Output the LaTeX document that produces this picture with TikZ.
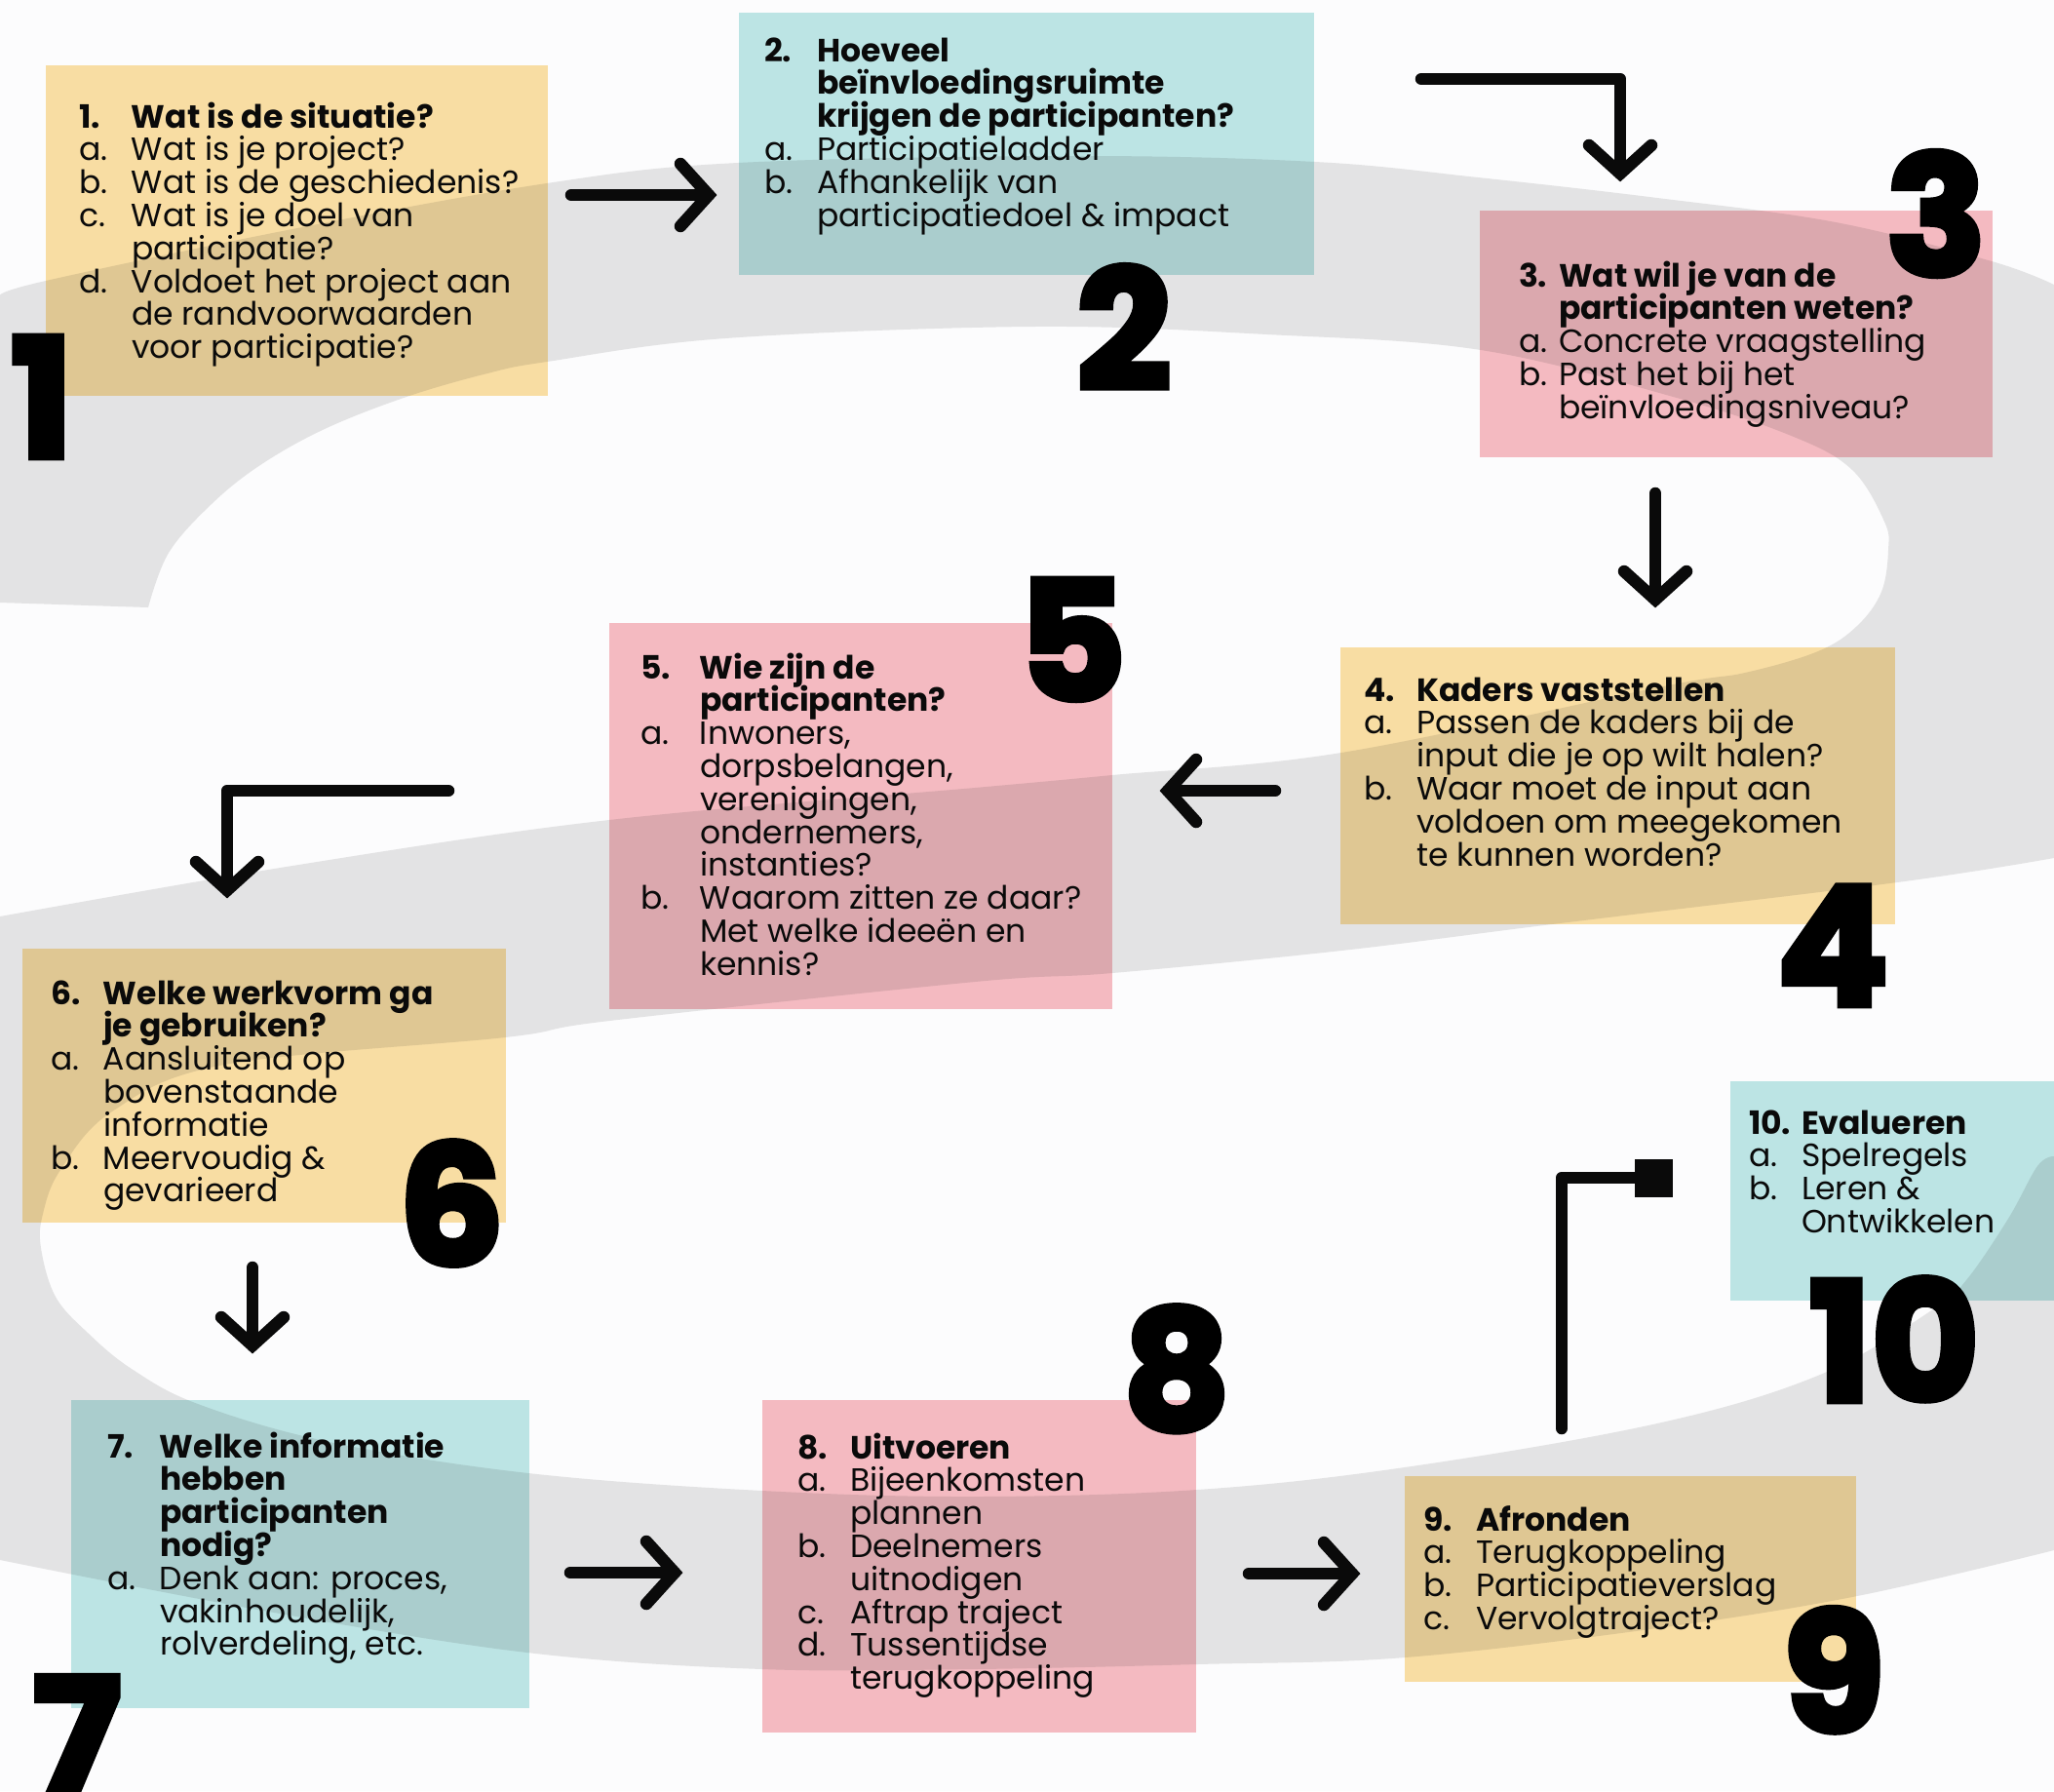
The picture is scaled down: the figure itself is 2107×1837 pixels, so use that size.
\documentclass[tikz,border=0pt]{standalone}
\usepackage{fontspec}
\setmainfont{Poppins}
\newfontfamily\bignum{Poppins}[FakeBold=3.8]
\usetikzlibrary{fit,calc}
\definecolor{bgc}{HTML}{FCFCFD}
\definecolor{swirlc}{HTML}{E3E3E4}
\definecolor{yellowc}{HTML}{FBE0A5}
\definecolor{tealc}{HTML}{BFE7E6}
\definecolor{pinkc}{HTML}{F7BDC3}
\definecolor{inkc}{HTML}{0A0A0A}
\newcommand\txtfont{\fontsize{16.5}{16.9}\selectfont\lineskiplimit=-100pt\lineskip=0pt}
\newcommand\bignumfont{\bignum\bfseries\fontsize{85}{85}\selectfont}
\newcommand\tln[3][27pt]{\hbox{\makebox[#1][l]{#2}#3}}
\newcommand\tlh[3][27pt]{\hbox{\bfseries\makebox[#1][l]{#2}#3}}
\tikzset{
  box/.style={inner sep=0pt, outer sep=0pt, draw=none},
  arr/.style={line width=6.25pt, line cap=round, line join=round, draw=inkc},
  head/.style={line width=6.25pt, line cap=round, line join=miter, draw=inkc},
  txt/.style={anchor=base west, inner sep=0pt, outer sep=0pt, text=inkc, font=\txtfont},
  big/.style={anchor=base, inner sep=0pt, text=black, font=\bignumfont},
}
\begin{document}
\begin{tikzpicture}[x=0.5pt, y=-0.5pt]
\useasboundingbox (0,0) rectangle (2107,1837);
\begin{scope}
\clip (0,0) rectangle (2107,1837);
\fill[bgc] (0,0) rectangle (2107,1837);
% grey spiral band
\fill[swirlc]
  plot[smooth, tension=0.6] coordinates {(152,623) (173,567) (217,517) (267,477) (333,440) (417,407) (500,383) (561,371) (744,347) (1060,335) (1300,343) (1519,359) (1720,408) (1840,448) (1900,482) (1933,535) (1937,564) (1930,607) (1905,642) (1865,668) (1790,690) (1706,704) (1376,772) (1141,795) (1000,808) (625,841) (300,888) (0,940)}
  -- (-60,940) -- (-60,1600) --
  plot[smooth, tension=0.6] coordinates {(0,1600) (270,1652) (541,1695) (782,1712) (1000,1712) (1228,1707) (1441,1700) (1700,1670) (1905,1637) (2107,1590)}
  -- (2160,1575) -- (2160,1186) --
  plot[smooth, tension=0.6] coordinates {(2107,1186) (2090,1196) (2060,1250) (2017,1313) (1983,1343) (1867,1410) (1700,1460) (1441,1505) (1228,1528) (1000,1535) (782,1529) (542,1511) (338,1479) (203,1440) (135,1404) (90,1367) (57,1330) (42,1280) (44,1245) (62,1200) (115,1140) (230,1092) (518,1064) (625,1047) (1000,1007) (1141,998) (1376,975) (1600,947) (1946,905) (2107,880)}
  -- (2160,875) -- (2160,300) --
  plot[smooth, tension=0.6] coordinates {(2107,292) (2043,268) (1883,228) (1700,203) (1516,182) (1349,166) (1100,160) (757,167) (561,188) (300,235) (47,288) (0,303)}
  -- (-60,303) -- (-60,618) -- (0,618) -- cycle;
% boxes
\begin{scope}[blend mode=multiply]
\node[box, fill=yellowc, fit={(47,67) (562,406)}] (b1) {};
\node[box, fill=tealc, fit={(758,13) (1348,282)}] (b2) {};
\node[box, fill=pinkc, fit={(1518,216) (2044,469)}] (b3) {};
\node[box, fill=yellowc, fit={(1375,664) (1944,948)}] (b4) {};
\node[box, fill=pinkc, fit={(625,639) (1141,1035)}] (b5) {};
\node[box, fill=yellowc, fit={(23,973) (519,1254)}] (b6) {};
\node[box, fill=tealc, fit={(73,1436) (543,1752)}] (b7) {};
\node[box, fill=pinkc, fit={(782,1436) (1227,1777)}] (b8) {};
\node[box, fill=yellowc, fit={(1441,1514) (1904,1725)}] (b9) {};
\node[box, fill=tealc, fit={(1775,1109) (2120,1334)}] (b10) {};
\end{scope}
% texts
\node[txt] (t1) at (81,131) {\vtop{\tlh{1.}{Wat is de situatie?}\tln{a.}{Wat is je project?}\tln{b.}{Wat is de geschiedenis?}\tln{c.}{Wat is je doel van}\tln{}{participatie?}\tln{d.}{Voldoet het project aan}\tln{}{de randvoorwaarden}\tln{}{voor participatie?}}};
\node[txt] (t2) at (784,63) {\vtop{\tlh{2.}{Hoeveel}\tlh{}{beïnvloedingsruimte}\tlh{}{krijgen de participanten?}\tln{a.}{Participatieladder}\tln{b.}{Afhankelijk van}\tln{}{participatiedoel \& impact}}};
\node[txt] (t3) at (1558,294) {\vtop{\tlh[20.5pt]{3.}{Wat wil je van de}\tlh[20.5pt]{}{participanten weten?}\tln[20.5pt]{a.}{Concrete vraagstelling}\tln[20.5pt]{b.}{Past het bij het}\tln[20.5pt]{}{beïnvloedingsniveau?}}};
\node[txt] (t4) at (1399,719) {\vtop{\tlh{4.}{Kaders vaststellen}\tln{a.}{Passen de kaders bij de}\tln{}{input die je op wilt halen?}\tln{b.}{Waar moet de input aan}\tln{}{voldoen om meegekomen}\tln{}{te kunnen worden?}}};
\node[txt] (t5) at (657,696) {\vtop{\tlh[30.5pt]{5.}{Wie zijn de}\tlh[30.5pt]{}{participanten?}\tln[30.5pt]{a.}{Inwoners,}\tln[30.5pt]{}{dorpsbelangen,}\tln[30.5pt]{}{verenigingen,}\tln[30.5pt]{}{ondernemers,}\tln[30.5pt]{}{instanties?}\tln[30.5pt]{b.}{Waarom zitten ze daar?}\tln[30.5pt]{}{Met welke ideeën en}\tln[30.5pt]{}{kennis?}}};
\node[txt] (t6) at (52,1030) {\vtop{\tlh{6.}{Welke werkvorm ga}\tlh{}{je gebruiken?}\tln{a.}{Aansluitend op}\tln{}{bovenstaande}\tln{}{informatie}\tln{b.}{Meervoudig \&}\tln{}{gevarieerd}}};
\node[txt] (t7) at (110,1495) {\vtop{\tlh{7.}{Welke informatie}\tlh{}{hebben}\tlh{}{participanten}\tlh{}{nodig?}\tln{a.}{Denk aan: proces,}\tln{}{vakinhoudelijk,}\tln{}{rolverdeling, etc.}}};
\node[txt] (t8) at (818,1496) {\vtop{\tlh{8.}{Uitvoeren}\tln{a.}{Bijeenkomsten}\tln{}{plannen}\tln{b.}{Deelnemers}\tln{}{uitnodigen}\tln{c.}{Aftrap traject}\tln{d.}{Tussentijdse}\tln{}{terugkoppeling}}};
\node[txt] (t9) at (1460,1570) {\vtop{\tlh{9.}{Afronden}\tln{a.}{Terugkoppeling}\tln{b.}{Participatieverslag}\tln{c.}{Vervolgtraject?}}};
\node[txt] (t10) at (1794,1163) {\vtop{\tlh{10.}{Evalueren}\tln{a.}{Spelregels}\tln{b.}{Leren \&}\tln{}{Ontwikkelen}}};
% arrows
\coordinate (a1s) at (586,200); \coordinate (a1e) at (727,200);
\draw[arr] (a1s) -- (a1e);
\draw[head] ($(a1e)+(-29,-32)$) -- (a1e) -- ($(a1e)+(-29,32)$);
\coordinate (a2s) at (1458,81); \coordinate (a2e) at (1662,178);
\draw[arr] (a2s) -| (a2e);
\draw[head] ($(a2e)+(-32,-29)$) -- (a2e) -- ($(a2e)+(32,-29)$);
\coordinate (a3s) at (1698,506); \coordinate (a3e) at (1698,615);
\draw[arr] (a3s) -- (a3e);
\draw[head] ($(a3e)+(-32,-29)$) -- (a3e) -- ($(a3e)+(32,-29)$);
\coordinate (a4s) at (1308,811); \coordinate (a4e) at (1198,811);
\draw[arr] (a4s) -- (a4e);
\draw[head] ($(a4e)+(29,-32)$) -- (a4e) -- ($(a4e)+(29,32)$);
\coordinate (a5s) at (460,811); \coordinate (a5e) at (233,913);
\draw[arr] (a5s) -| (a5e);
\draw[head] ($(a5e)+(-32,-29)$) -- (a5e) -- ($(a5e)+(32,-29)$);
\coordinate (a6s) at (259,1300); \coordinate (a6e) at (259,1380);
\draw[arr] (a6s) -- (a6e);
\draw[head] ($(a6e)+(-32,-29)$) -- (a6e) -- ($(a6e)+(32,-29)$);
\coordinate (a7s) at (585,1613); \coordinate (a7e) at (692,1613);
\draw[arr] (a7s) -- (a7e);
\draw[head] ($(a7e)+(-29,-32)$) -- (a7e) -- ($(a7e)+(-29,32)$);
\coordinate (a8s) at (1281,1614); \coordinate (a8e) at (1387,1614);
\draw[arr] (a8s) -- (a8e);
\draw[head] ($(a8e)+(-29,-32)$) -- (a8e) -- ($(a8e)+(-29,32)$);
\node[fill=inkc, inner sep=0pt, outer sep=0pt, minimum size=19.5pt] (sq) at (1696,1208) {};
\coordinate (a9s) at (1602,1465);
\draw[arr] (a9s) |- (sq.west);
% big numbers
\node[big] (n1) at (43,469) {1};
\node[big] (n2) at (1153,399) {2};
\node[big] (n3) at (1986,282) {3};
\node[big] (n4) at (1880,1031) {4};
\node[big] (n5) at (1100,718) {5};
\node[big] (n6) at (463,1297) {6};
\node[big] (n7) at (79,1843) {7};
\node[big] (n8) at (1207,1466) {8};
\node[big] (n9) at (1881,1776) {9};
\node[big] (n10) at (1943,1437) {10};
\end{scope}
\end{tikzpicture}
\end{document}
